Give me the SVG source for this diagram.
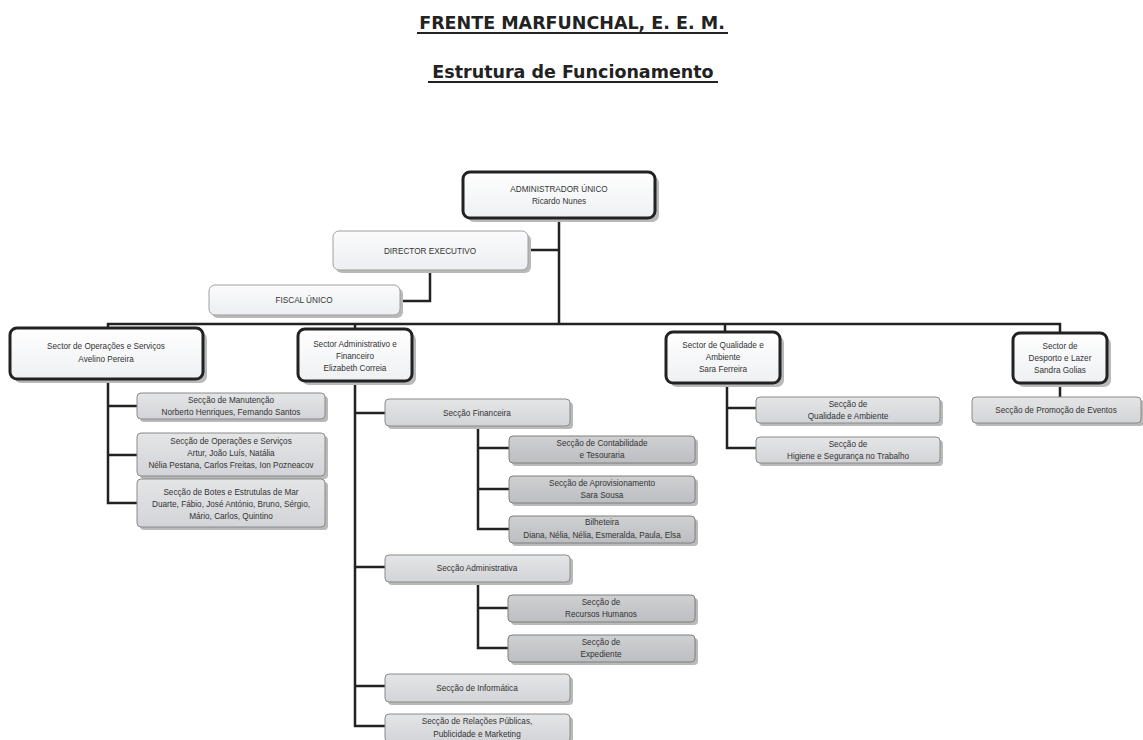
<svg xmlns="http://www.w3.org/2000/svg" width="1143" height="740" viewBox="0 0 1143 740">
<defs>
<linearGradient id="gWhite" x1="0" y1="0" x2="0" y2="1"><stop offset="0" stop-color="#ffffff"/><stop offset="1" stop-color="#eef0f2"/></linearGradient>
<linearGradient id="gLight" x1="0" y1="0" x2="0" y2="1"><stop offset="0" stop-color="#fbfbfc"/><stop offset="1" stop-color="#eceef1"/></linearGradient>
<linearGradient id="gMid" x1="0" y1="0" x2="0" y2="1"><stop offset="0" stop-color="#e4e5e7"/><stop offset="1" stop-color="#d2d4d7"/></linearGradient>
<linearGradient id="gDark" x1="0" y1="0" x2="0" y2="1"><stop offset="0" stop-color="#cfd0d2"/><stop offset="1" stop-color="#bcbec1"/></linearGradient>
</defs>
<style>
.title{font-family:"DejaVu Sans",Verdana,sans-serif;font-weight:bold;font-size:17.5px;fill:#222;text-anchor:middle}
.t{font-family:"Liberation Sans",Arial,sans-serif;font-size:8.2px;fill:#333;text-anchor:middle}
.sh{fill:#b9b9b9}
.top{fill:url(#gWhite);stroke:#222;stroke-width:3}
.lt{fill:url(#gLight);stroke:#a0a0a0;stroke-width:1}
.mid{fill:url(#gMid);stroke:#8a8a8a;stroke-width:1}
.dk{fill:url(#gDark);stroke:#7e7e7e;stroke-width:1}
.c{fill:none;stroke:#222;stroke-width:2.5}
.ul{stroke:#222;stroke-width:2}
</style>
<rect width="1143" height="740" fill="#ffffff"/>

<g id="titles">
<text class="title" x="572" y="29">FRENTE MARFUNCHAL, E. E. M.</text>
<line class="ul" x1="417" y1="33" x2="728" y2="33"/>
<text class="title" x="573" y="78">Estrutura de Funcionamento</text>
<line class="ul" x1="428" y1="82" x2="718" y2="82"/>
</g>

<g id="connectors">
<path class="c" d="M559 218 V324"/>
<path class="c" d="M528 250 H559"/>
<path class="c" d="M400 301 H430 V270"/>
<path class="c" d="M108 328 V324 H1060 V333"/>
<path class="c" d="M355 324 V329"/>
<path class="c" d="M725 324 V332"/>
<path class="c" d="M108 379 V503 H137 M108 406 H137 M108 455 H137"/>
<path class="c" d="M355 381 V726 H385 M355 413 H385 M355 567 H385 M355 686 H385"/>
<path class="c" d="M478 426 V529 H509 M478 448 H509 M478 489 H509"/>
<path class="c" d="M478 582 V648 H508 M478 608 H508"/>
<path class="c" d="M727 383 V448 H756 M727 408 H756"/>
<path class="c" d="M1060 383 V397"/>
</g>

<g id="admin">
<rect class="sh" x="467" y="176" width="192" height="46" rx="7"/>
<rect class="top" x="463" y="172" width="192" height="46" rx="7"/>
<text class="t" x="559" y="192">ADMINISTRADOR ÚNICO</text>
<text class="t" x="559" y="204">Ricardo Nunes</text>
</g>
<g id="director">
<rect class="sh" x="336" y="234" width="195" height="39" rx="6"/>
<rect class="lt" x="333" y="231" width="195" height="39" rx="6"/>
<text class="t" x="430" y="254">DIRECTOR EXECUTIVO</text>
</g>
<g id="fiscal">
<rect class="sh" x="212" y="288" width="191" height="30" rx="6"/>
<rect class="lt" x="209" y="285" width="191" height="30" rx="6"/>
<text class="t" x="304" y="303">FISCAL ÚNICO</text>
</g>

<g id="sector-operacoes">
<rect class="sh" x="14" y="332" width="193" height="51" rx="7"/>
<rect class="top" x="10" y="328" width="193" height="51" rx="7"/>
<text class="t" x="106" y="349">Sector de Operações e Serviços</text>
<text class="t" x="106" y="362">Avelino Pereira</text>
</g>
<g id="sector-administrativo">
<rect class="sh" x="302" y="333" width="114" height="52" rx="7"/>
<rect class="top" x="298" y="329" width="114" height="52" rx="7"/>
<text class="t" x="355" y="347">Sector Administrativo e</text>
<text class="t" x="355" y="359">Financeiro</text>
<text class="t" x="355" y="371">Elizabeth Correia</text>
</g>
<g id="sector-qualidade">
<rect class="sh" x="670" y="336" width="114" height="51" rx="7"/>
<rect class="top" x="666" y="332" width="114" height="51" rx="7"/>
<text class="t" x="723" y="348">Sector de Qualidade e</text>
<text class="t" x="723" y="360">Ambiente</text>
<text class="t" x="723" y="372">Sara Ferreira</text>
</g>
<g id="sector-desporto">
<rect class="sh" x="1017" y="337" width="94" height="50" rx="7"/>
<rect class="top" x="1013" y="333" width="94" height="50" rx="7"/>
<text class="t" x="1060" y="349">Sector de</text>
<text class="t" x="1060" y="361">Desporto e Lazer</text>
<text class="t" x="1060" y="373">Sandra Golias</text>
</g>

<g id="manutencao">
<rect class="sh" x="140" y="396" width="188" height="26" rx="4"/>
<rect class="mid" x="137" y="393" width="188" height="26" rx="4"/>
<text class="t" x="231" y="403">Secção de Manutenção</text>
<text class="t" x="231" y="415">Norberto Henriques, Fernando Santos</text>
</g>
<g id="operacoes-servicos">
<rect class="sh" x="140" y="436" width="188" height="43" rx="4"/>
<rect class="mid" x="137" y="433" width="188" height="43" rx="4"/>
<text class="t" x="231" y="444">Secção de Operações e Serviços</text>
<text class="t" x="231" y="456">Artur, João Luís, Natália</text>
<text class="t" x="231" y="468">Nélia Pestana, Carlos Freitas, Ion Pozneacov</text>
</g>
<g id="botes">
<rect class="sh" x="140" y="482" width="188" height="48" rx="4"/>
<rect class="mid" x="137" y="479" width="188" height="48" rx="4"/>
<text class="t" x="231" y="495">Secção de Botes e Estrutulas de Mar</text>
<text class="t" x="231" y="507">Duarte, Fábio, José António, Bruno, Sérgio,</text>
<text class="t" x="231" y="519">Mário, Carlos, Quintino</text>
</g>

<g id="financeira">
<rect class="sh" x="388" y="402" width="185" height="27" rx="4"/>
<rect class="mid" x="385" y="399" width="185" height="27" rx="4"/>
<text class="t" x="477" y="416">Secção Financeira</text>
</g>
<g id="contabilidade">
<rect class="sh" x="512" y="439" width="186" height="27" rx="4"/>
<rect class="dk" x="509" y="436" width="186" height="27" rx="4"/>
<text class="t" x="602" y="446">Secção de Contabilidade</text>
<text class="t" x="602" y="458">e Tesouraria</text>
</g>
<g id="aprovisionamento">
<rect class="sh" x="512" y="479" width="186" height="27" rx="4"/>
<rect class="dk" x="509" y="476" width="186" height="27" rx="4"/>
<text class="t" x="602" y="486">Secção de Aprovisionamento</text>
<text class="t" x="602" y="498">Sara Sousa</text>
</g>
<g id="bilheteira">
<rect class="sh" x="512" y="519" width="186" height="27" rx="4"/>
<rect class="dk" x="509" y="516" width="186" height="27" rx="4"/>
<text class="t" x="602" y="525">Bilheteira</text>
<text class="t" x="602" y="538">Diana, Nélia, Nélia, Esmeralda, Paula, Elsa</text>
</g>
<g id="administrativa">
<rect class="sh" x="388" y="558" width="185" height="27" rx="4"/>
<rect class="mid" x="385" y="555" width="185" height="27" rx="4"/>
<text class="t" x="477" y="571">Secção Administrativa</text>
</g>
<g id="recursos-humanos">
<rect class="sh" x="511" y="598" width="187" height="27" rx="4"/>
<rect class="dk" x="508" y="595" width="187" height="27" rx="4"/>
<text class="t" x="601" y="605">Secção de</text>
<text class="t" x="601" y="617">Recursos Humanos</text>
</g>
<g id="expediente">
<rect class="sh" x="511" y="638" width="187" height="27" rx="4"/>
<rect class="dk" x="508" y="635" width="187" height="27" rx="4"/>
<text class="t" x="601" y="645">Secção de</text>
<text class="t" x="601" y="657">Expediente</text>
</g>
<g id="informatica">
<rect class="sh" x="388" y="677" width="185" height="28" rx="4"/>
<rect class="mid" x="385" y="674" width="185" height="28" rx="4"/>
<text class="t" x="477" y="691">Secção de Informática</text>
</g>
<g id="relacoes-publicas">
<rect class="sh" x="388" y="717" width="185" height="28" rx="4"/>
<rect class="mid" x="385" y="714" width="185" height="28" rx="4"/>
<text class="t" x="477" y="724">Secção de Relações Públicas,</text>
<text class="t" x="477" y="737">Publicidade e Marketing</text>
</g>

<g id="qualidade-ambiente">
<rect class="sh" x="759" y="400" width="184" height="26" rx="4"/>
<rect class="mid" x="756" y="397" width="184" height="26" rx="4"/>
<text class="t" x="848" y="407">Secção de</text>
<text class="t" x="848" y="419">Qualidade e Ambiente</text>
</g>
<g id="higiene">
<rect class="sh" x="759" y="440" width="184" height="26" rx="4"/>
<rect class="mid" x="756" y="437" width="184" height="26" rx="4"/>
<text class="t" x="848" y="447">Secção de</text>
<text class="t" x="848" y="459">Higiene e Segurança no Trabalho</text>
</g>
<g id="promocao">
<rect class="sh" x="975" y="400" width="169" height="26" rx="4"/>
<rect class="mid" x="972" y="397" width="169" height="26" rx="4"/>
<text class="t" x="1056" y="413">Secção de Promoção de Eventos</text>
</g>
</svg>
